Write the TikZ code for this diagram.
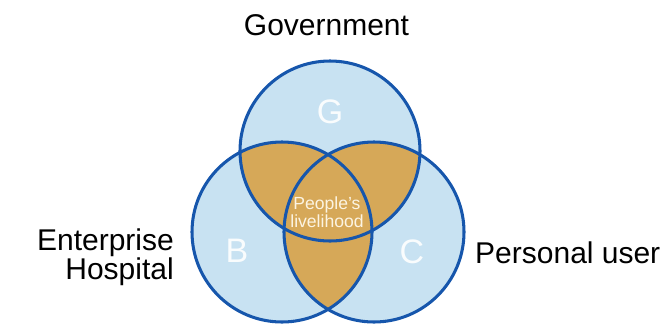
\documentclass[tikz,border=0pt]{standalone}
\usepackage{fontspec}
\setmainfont{Liberation Sans}
\definecolor{setblue}{RGB}{200,226,242}
\definecolor{setgold}{RGB}{214,168,88}
\definecolor{setline}{RGB}{22,86,172}

\begin{document}
\begin{tikzpicture}[x=0.03cm, y=0.03cm,
    outer/.style={inner sep=0pt, font=\fontsize{25.6}{24.7}\selectfont},
    letter/.style={inner sep=0pt, text=white, text opacity=0.9, font=\fontsize{29}{29}\selectfont},
    ring/.style={draw=setline, line width=2.6pt}]
    \useasboundingbox (0,0) rectangle (671,323);

    % Centres of the sets
    \coordinate (g) at (330,172);
    \coordinate (b) at (282,91);
    \coordinate (c) at (374,91);
    \def\rad{90}

    % Fill the sets
    \fill[setblue] (g) circle (\rad) (b) circle (\rad) (c) circle (\rad);
    \begin{scope}
        \clip (g) circle (\rad);
        \fill[setgold] (b) circle (\rad) (c) circle (\rad);
    \end{scope}
    \begin{scope}
        \clip (b) circle (\rad);
        \fill[setgold] (c) circle (\rad);
    \end{scope}

    % Draw the circles
    \draw[ring] (g) circle (\rad);
    \draw[ring] (b) circle (\rad);
    \draw[ring] (c) circle (\rad);

    % Labels
    \node[letter] (lg) at (330,211) {G};
    \node[letter] (lb) at (237,72) {B};
    \node[letter] (lc) at (412,71) {C};
    \node[inner sep=0pt, align=center, text={rgb,255:red,252;green,244;blue,226},
        font=\fontsize{15}{15.5}\selectfont] (core) at (327,111) {People's\\livelihood};

    \node[outer, anchor=base] (gov) at (326.5,288) {Government};
    \node[outer, anchor=south east, align=right] (ent) at (174,37) {Enterprise\\Hospital};
    \node[outer, anchor=base west] (per) at (475,60) {Personal user};
\end{tikzpicture}
\end{document}
